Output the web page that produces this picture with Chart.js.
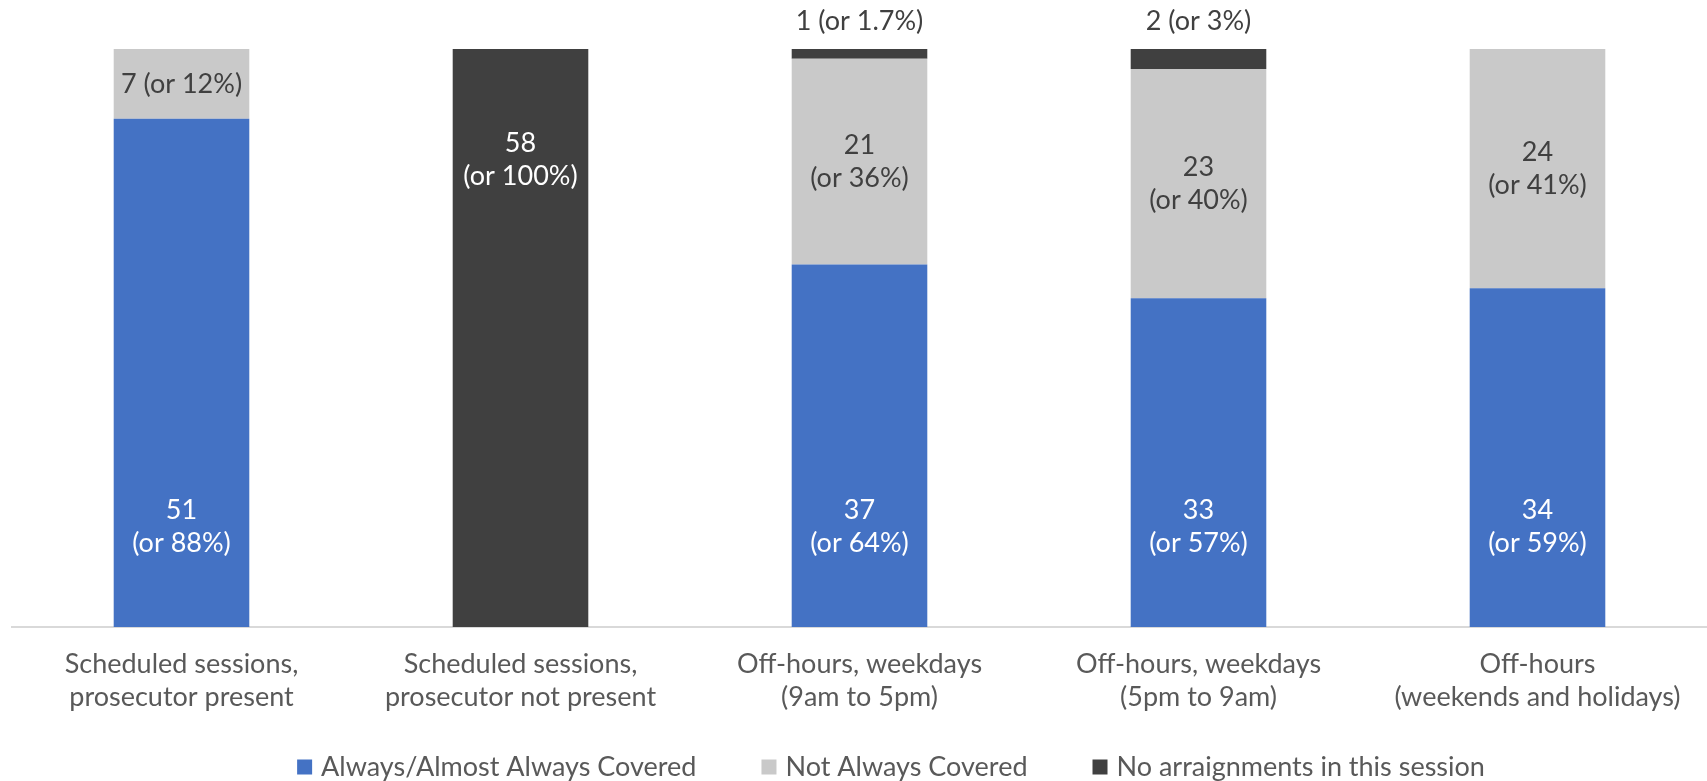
<!DOCTYPE html>
<html>
<head>
<meta charset="utf-8">
<script src="https://cdn.jsdelivr.net/npm/chart.js@4.4.1/dist/chart.umd.min.js"></script>
<style>
  html, body { margin: 0; padding: 0; background: #fff; }
  #wrap { width: 1707px; height: 781px; }
</style>
</head>
<body>
<div id="wrap"><canvas id="chart"></canvas></div>
<script>
// Chart data (counts of sessions, shown as a 100% stacked bar)
const categories = [
    ['Scheduled sessions,', 'prosecutor present'],
    ['Scheduled sessions,', 'prosecutor not present'],
    ['Off-hours, weekdays', '(9am to 5pm)'],
    ['Off-hours, weekdays', '(5pm to 9am)'],
    ['Off-hours', '(weekends and holidays)']
];
const seriesNames = ['Always/Almost Always Covered', 'Not Always Covered', 'No arraignments in this session'];
const coveredCounts = [51, 0, 37, 33, 34];
const coveredPct = ['88%', '', '64%', '57%', '59%'];
const notCoveredCounts = [7, 0, 21, 23, 24];
const notCoveredPct = ['12%', '', '36%', '40%', '41%'];
const noArraignCounts = [0, 58, 1, 2, 0];
const noArraignPct = ['', '100%', '1.7%', '3%', ''];

const FONT_FAMILY = 'Lato, "Noto Sans", sans-serif';
const FONT_SIZE = 27;
const LINE_H = 33;
const TEXT_GREY = '#595959';
const colors = ['#4472C4', '#C9C9C9', '#404040'];

// each bar is scaled to its own total (100% stacked)
const rowTotals = categories.map((c, j) => coveredCounts[j] + notCoveredCounts[j] + noArraignCounts[j]);
function toShare(counts) {
    return counts.map((v, j) => v / rowTotals[j] * 100);
}

// Draws the "n (or x%)" labels on each stacked segment
const segmentLabels = {
    id: 'segmentLabels',
    afterDatasetsDraw(chart) {
        const ctx = chart.ctx;
        ctx.save();
        ctx.font = FONT_SIZE + 'px ' + FONT_FAMILY;
        ctx.textAlign = 'center';
        ctx.textBaseline = 'middle';

        chart.data.datasets.forEach(function(ds, i) {
            const meta = chart.getDatasetMeta(i);
            meta.data.forEach(function(bar, j) {
                const v = ds.counts[j];
                if (!v) return;
                const top = Math.min(bar.y, bar.base);
                const bottom = Math.max(bar.y, bar.base);
                const h = bottom - top;
                const first = String(v);
                const second = '(or ' + ds.pct[j] + ')';
                let lines = [first, second];
                let cy;
                ctx.fillStyle = ds.labelColor;

                if (ds.labelPos === 'base') {
                    cy = bottom - 100;
                } else if (ds.labelPos === 'center') {
                    cy = (top + bottom) / 2;
                    if (h < 90) lines = [first + ' ' + second];
                } else {
                    if (h < 30) {
                        // too thin, put it above the bar
                        lines = [first + ' ' + second];
                        cy = top - 28;
                        ctx.fillStyle = '#404040';
                    } else {
                        cy = top + 111;
                    }
                }

                const startY = cy - (lines.length - 1) * LINE_H / 2;
                lines.forEach(function(t, k) {
                    ctx.fillText(t, bar.x, startY + k * LINE_H);
                });
            });
        });
        ctx.restore();
    }
};

// Legend drawn under the axis labels
const bottomLegend = {
    id: 'bottomLegend',
    afterDraw(chart) {
        const ctx = chart.ctx;
        const box = 15, gap = 9, spacing = 65;
        const y = 767;
        ctx.save();
        ctx.font = FONT_SIZE + 'px ' + FONT_FAMILY;
        ctx.textBaseline = 'middle';
        ctx.textAlign = 'left';

        const widths = seriesNames.map(n => box + gap + ctx.measureText(n).width);
        const total = widths.reduce((a, b) => a + b, 0) + spacing * (widths.length - 1);
        let x = 891 - total / 2;

        seriesNames.forEach(function(name, i) {
            ctx.fillStyle = colors[i];
            ctx.fillRect(x, y - box / 2, box, box);
            ctx.fillStyle = TEXT_GREY;
            ctx.fillText(name, x + box + gap, y);
            x += widths[i] + spacing;
        });
        ctx.restore();
    }
};

const ctx = document.getElementById('chart').getContext('2d');
new Chart(ctx, {
    type: 'bar',
    data: {
        labels: categories,
        datasets: [
            { label: seriesNames[0], data: toShare(coveredCounts), counts: coveredCounts, pct: coveredPct, backgroundColor: colors[0], labelPos: 'base', labelColor: '#FFFFFF' },
            { label: seriesNames[1], data: toShare(notCoveredCounts), counts: notCoveredCounts, pct: notCoveredPct, backgroundColor: colors[1], labelPos: 'center', labelColor: '#404040' },
            { label: seriesNames[2], data: toShare(noArraignCounts), counts: noArraignCounts, pct: noArraignPct, backgroundColor: colors[2], labelPos: 'end', labelColor: '#FFFFFF' }
        ]
    },
    options: {
        responsive: true,
        maintainAspectRatio: false,
        animation: false,
        layout: {
            padding: { top: 49, left: 12, right: 0, bottom: 46 }
        },
        datasets: {
            bar: { categoryPercentage: 1, barPercentage: 0.4, borderWidth: 0 }
        },
        plugins: {
            legend: { display: false },
            tooltip: { enabled: false }
        },
        scales: {
            x: {
                stacked: true,
                grid: { display: false, drawTicks: false },
                border: { display: true, color: '#D9D9D9', width: 2 },
                ticks: {
                    color: TEXT_GREY,
                    padding: 21,
                    maxRotation: 0,
                    autoSkip: false,
                    font: { family: FONT_FAMILY, size: FONT_SIZE, lineHeight: LINE_H / FONT_SIZE }
                }
            },
            y: {
                stacked: true,
                display: false,
                min: 0,
                max: 100
            }
        }
    },
    plugins: [segmentLabels, bottomLegend]
});
</script>
</body>
</html>
